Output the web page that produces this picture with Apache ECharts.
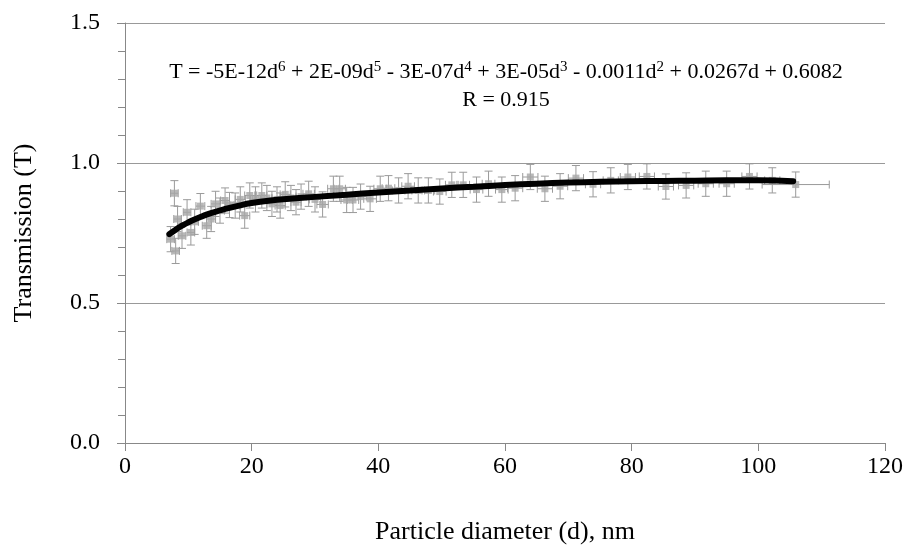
<!DOCTYPE html>
<html>
<head>
<meta charset="utf-8">
<script src="https://cdn.jsdelivr.net/npm/echarts@6/dist/echarts.min.js"></script>
<style>html,body{margin:0;padding:0;background:#fff}#c{width:909px;height:547px}</style>
</head>
<body>
<div id="c"></div>
<script>
// Measured points: particle diameter (nm) and transmission
var diam = [7.2,7.8,8.0,8.3,9.0,9.8,10.4,11.0,11.9,12.9,13.6,14.3,15.0,15.8,16.5,17.4,18.2,18.9,19.7,20.6,21.6,22.4,23.2,24.0,24.5,25.3,26.2,27.0,27.8,29.0,30.0,31.2,32.9,33.9,35.0,36.0,37.2,38.7,40.3,41.6,43.2,44.7,46.3,47.9,49.7,51.6,53.4,55.5,57.4,59.5,61.6,64.0,66.3,68.7,71.2,73.9,76.7,79.4,82.4,85.4,88.6,91.7,95.0,98.6,102.2,105.9];
var trans = [0.728,0.892,0.686,0.800,0.740,0.824,0.752,0.790,0.846,0.776,0.800,0.854,0.830,0.866,0.850,0.848,0.870,0.812,0.884,0.870,0.884,0.875,0.854,0.870,0.848,0.888,0.875,0.860,0.880,0.890,0.870,0.852,0.908,0.908,0.868,0.868,0.880,0.872,0.908,0.910,0.902,0.917,0.902,0.902,0.898,0.922,0.922,0.905,0.926,0.905,0.910,0.950,0.908,0.917,0.946,0.924,0.938,0.950,0.952,0.916,0.920,0.926,0.926,0.952,0.938,0.923];
// Error bar half-widths
var tErr = [0.045,0.045,0.045,0.045,0.045,0.045,0.045,0.045,0.045,0.045,0.045,0.045,0.045,0.045,0.045,0.045,0.045,0.045,0.045,0.045,0.045,0.045,0.045,0.045,0.045,0.045,0.045,0.045,0.045,0.045,0.045,0.045,0.045,0.045,0.045,0.045,0.045,0.045,0.045,0.045,0.045,0.045,0.045,0.045,0.045,0.045,0.045,0.045,0.045,0.045,0.045,0.045,0.045,0.045,0.045,0.045,0.045,0.045,0.045,0.045,0.045,0.045,0.045,0.045,0.045,0.045];
var dErr = [0.6,0.6,0.6,0.6,0.6,0.6,0.6,0.6,0.7,0.7,0.7,0.7,0.7,0.7,0.7,0.7,0.8,0.8,0.8,0.8,0.8,0.8,0.8,0.8,0.8,0.8,0.8,0.8,0.8,0.9,0.9,0.9,0.9,0.9,0.9,0.9,0.9,1.0,1.0,1.0,1.0,1.0,1.0,1.0,1.0,1.0,1.0,1.0,1.0,1.0,1.2,1.2,1.2,1.2,1.2,1.2,1.2,1.2,1.2,1.2,1.2,1.2,1.2,1.2,1.2,5.3];
// Polynomial trend line
var fitD = [7,8,9,10,12,14,16,18,20,23,26,30,35,40,45,50,55,60,65,70,75,80,85,90,95,100,105.5];
var fitT = [0.746,0.762,0.776,0.788,0.808,0.824,0.837,0.848,0.857,0.866,0.872,0.879,0.887,0.895,0.902,0.909,0.915,0.921,0.926,0.930,0.933,0.935,0.936,0.937,0.938,0.938,0.935];
// Axis ticks
var xTicks = {min:0, max:120, interval:20};
var yTicks = {min:0, max:1.5, interval:0.5};

var font = 'Liberation Serif';
var pts = diam.map(function(d,i){return [d, trans[i]];});
var errs = diam.map(function(d,i){return [d, trans[i], trans[i]-tErr[i], trans[i]+tErr[i], d-dErr[i], d+dErr[i]];});
var fit = fitD.map(function(d,i){return [d, fitT[i]];});

var chart = echarts.init(document.getElementById('c'));
chart.setOption({
  animation:false,
  backgroundColor:'#fff',
  grid:{left:125,right:24,top:23,bottom:104,containLabel:false,outerBoundsMode:'none'},
  xAxis:{type:'value',min:xTicks.min,max:xTicks.max,interval:xTicks.interval,
    name:'Particle diameter (d), nm',nameLocation:'middle',nameGap:76,
    nameTextStyle:{fontFamily:font,fontSize:26,color:'#000'},
    axisLine:{show:true,onZero:false,lineStyle:{color:'#888',width:1}},
    axisTick:{show:true,length:8,lineStyle:{color:'#888'}},
    axisLabel:{fontFamily:font,fontSize:24,color:'#000',margin:12},
    splitLine:{show:false}},
  yAxis:{type:'value',min:yTicks.min,max:yTicks.max,interval:yTicks.interval,
    name:'Transmission (T)',nameLocation:'middle',nameGap:88,
    nameTextStyle:{fontFamily:font,fontSize:26,color:'#000'},
    axisLine:{show:true,lineStyle:{color:'#888',width:1}},
    axisTick:{show:true,length:8,lineStyle:{color:'#888'}},
    minorTick:{show:true,splitNumber:5,length:7,lineStyle:{color:'#888'}},
    axisLabel:{fontFamily:font,fontSize:24,color:'#000',margin:25,formatter:function(v){return v.toFixed(1);}},
    splitLine:{show:true,lineStyle:{color:'#999',width:1}}},
  series:[
    {type:'custom',z:2,data:errs,
     renderItem:function(params,api){
       var x=api.value(0), y=api.value(1);
       var pLo=api.coord([x,api.value(2)]), pHi=api.coord([x,api.value(3)]);
       var pL=api.coord([api.value(4),y]), pR=api.coord([api.value(5),y]);
       var st={stroke:'#9a9a9a',lineWidth:1};
       var c=4;
       return {type:'group',children:[
         {type:'line',shape:{x1:pLo[0],y1:pLo[1],x2:pHi[0],y2:pHi[1]},style:st},
         {type:'line',shape:{x1:pLo[0]-c,y1:pLo[1],x2:pLo[0]+c,y2:pLo[1]},style:st},
         {type:'line',shape:{x1:pHi[0]-c,y1:pHi[1],x2:pHi[0]+c,y2:pHi[1]},style:st},
         {type:'line',shape:{x1:pL[0],y1:pL[1],x2:pR[0],y2:pR[1]},style:st},
         {type:'line',shape:{x1:pL[0],y1:pL[1]-c,x2:pL[0],y2:pL[1]+c},style:st},
         {type:'line',shape:{x1:pR[0],y1:pR[1]-c,x2:pR[0],y2:pR[1]+c},style:st}
       ]};
     }},
    {type:'scatter',z:3,data:pts,symbol:'rect',symbolSize:7,itemStyle:{color:'#a6a6a6'}},
    {type:'line',z:4,data:fit,smooth:true,showSymbol:false,symbol:'none',
     lineStyle:{color:'#000',width:6,cap:'round'}}
  ],
  graphic:[
    {type:'text',x:506,y:60,z:10,
     style:{text:'T = -5E-12d{s|6} + 2E-09d{s|5} - 3E-07d{s|4} + 3E-05d{s|3} - 0.0011d{s|2} + 0.0267d + 0.6082',
       font:'22px "Liberation Serif"',fill:'#000',align:'center',
       rich:{s:{fontSize:15,fontFamily:font,fill:'#000',padding:[0,0,9,0]}}}},
    {type:'text',x:506,y:89,z:10,
     style:{text:'R = 0.915',font:'22px "Liberation Serif"',fill:'#000',align:'center'}}
  ]
});
</script>
</body>
</html>
